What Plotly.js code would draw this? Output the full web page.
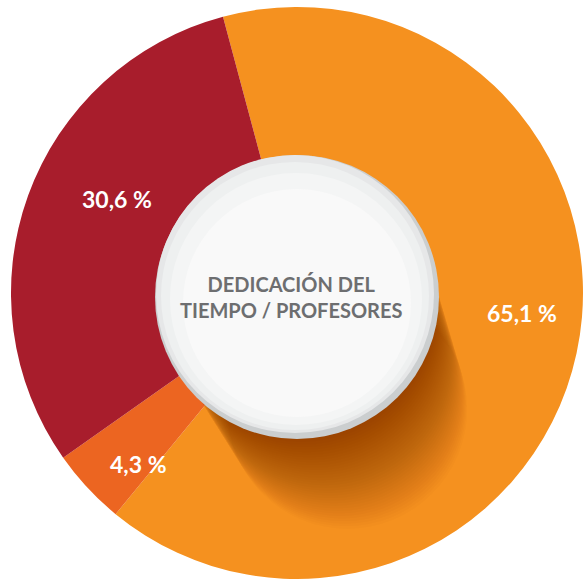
<!DOCTYPE html>
<html>
<head>
<meta charset="utf-8">
<script src="https://cdn.plot.ly/plotly-3.0.1.min.js"></script>
<style>html,body{margin:0;padding:0;background:#fff;}#chart{width:583px;height:580px;}</style>
</head>
<body>
<div id="chart"></div>
<script>
// Data
var categories = ["Docencia", "Otras actividades", "Investigación"];
var values = [65.1, 4.3, 30.6];
var colors = ["#f5911f", "#ec6521", "#a81d2c"];
var centerTitle = ["DEDICACIÓN DEL", "TIEMPO / PROFESORES"];

var W = 583, H = 580;
function px(x){ return x / W; }
function py(y){ return 1 - y / H; }
function circ(cx, cy, r, fill, opacity){
  return {type:'circle', xref:'paper', yref:'paper', layer:'above',
    x0:px(cx-r), x1:px(cx+r), y0:py(cy+r), y1:py(cy-r),
    fillcolor:fill, opacity:opacity==null?1:opacity,
    line:{width:0, color:'rgba(0,0,0,0)'}};
}

var shapes = [];
// soft shadow falling down and to the right of the centre disc
for (var t = 3; t <= 114; t += 3) {
  shapes.push(circ(296 + 0.45*t, 295 + t, 137 - 0.15*t, '#3c1e05', 0.017));
}
// white disc with grey rim
shapes.push(circ(297, 297, 142, '#cbcecf'));
shapes.push(circ(295, 294, 139, '#e6e7e8'));
shapes.push(circ(295, 296, 134, '#eef0f0'));
shapes.push(circ(296, 299, 126, '#f4f5f5'));
shapes.push(circ(297, 303, 114, '#f9f9f9'));

// slice labels (text built from the data)
var labelPos = [[522, 313], [138, 464], [117, 199]];
var annotations = values.map(function(v, i){
  return {xref:'paper', yref:'paper', x:px(labelPos[i][0]), y:py(labelPos[i][1]),
    xanchor:'center', yanchor:'middle',
    text: v.toFixed(1).replace('.', ',') + ' %', showarrow:false,
    font:{family:'Lato', size:23, color:'#ffffff', weight:'bold'}};
});
annotations.push({
  xref:'paper', yref:'paper', x:px(291), y:py(297),
  xanchor:'center', yanchor:'middle',
  text:centerTitle.join('<br>'), showarrow:false,
  font:{family:'Lato', size:20, color:'#6d6e70', weight:'bold'},
  align:'center'
});

var trace = {
  type:'pie',
  labels:categories,
  values:values,
  marker:{colors:colors, line:{width:0}},
  hole:0.48,
  sort:false,
  direction:'clockwise',
  rotation:-15,
  textinfo:'none',
  hoverinfo:'none',
  showlegend:false,
  domain:{x:[px(297-286), px(297+286)], y:[py(293+286), py(293-286)]}
};

var layout = {
  width:W, height:H,
  margin:{l:0,r:0,t:0,b:0},
  paper_bgcolor:'#ffffff',
  shapes:shapes,
  annotations:annotations
};

Plotly.newPlot('chart', [trace], layout, {staticPlot:true});
</script>
</body>
</html>
